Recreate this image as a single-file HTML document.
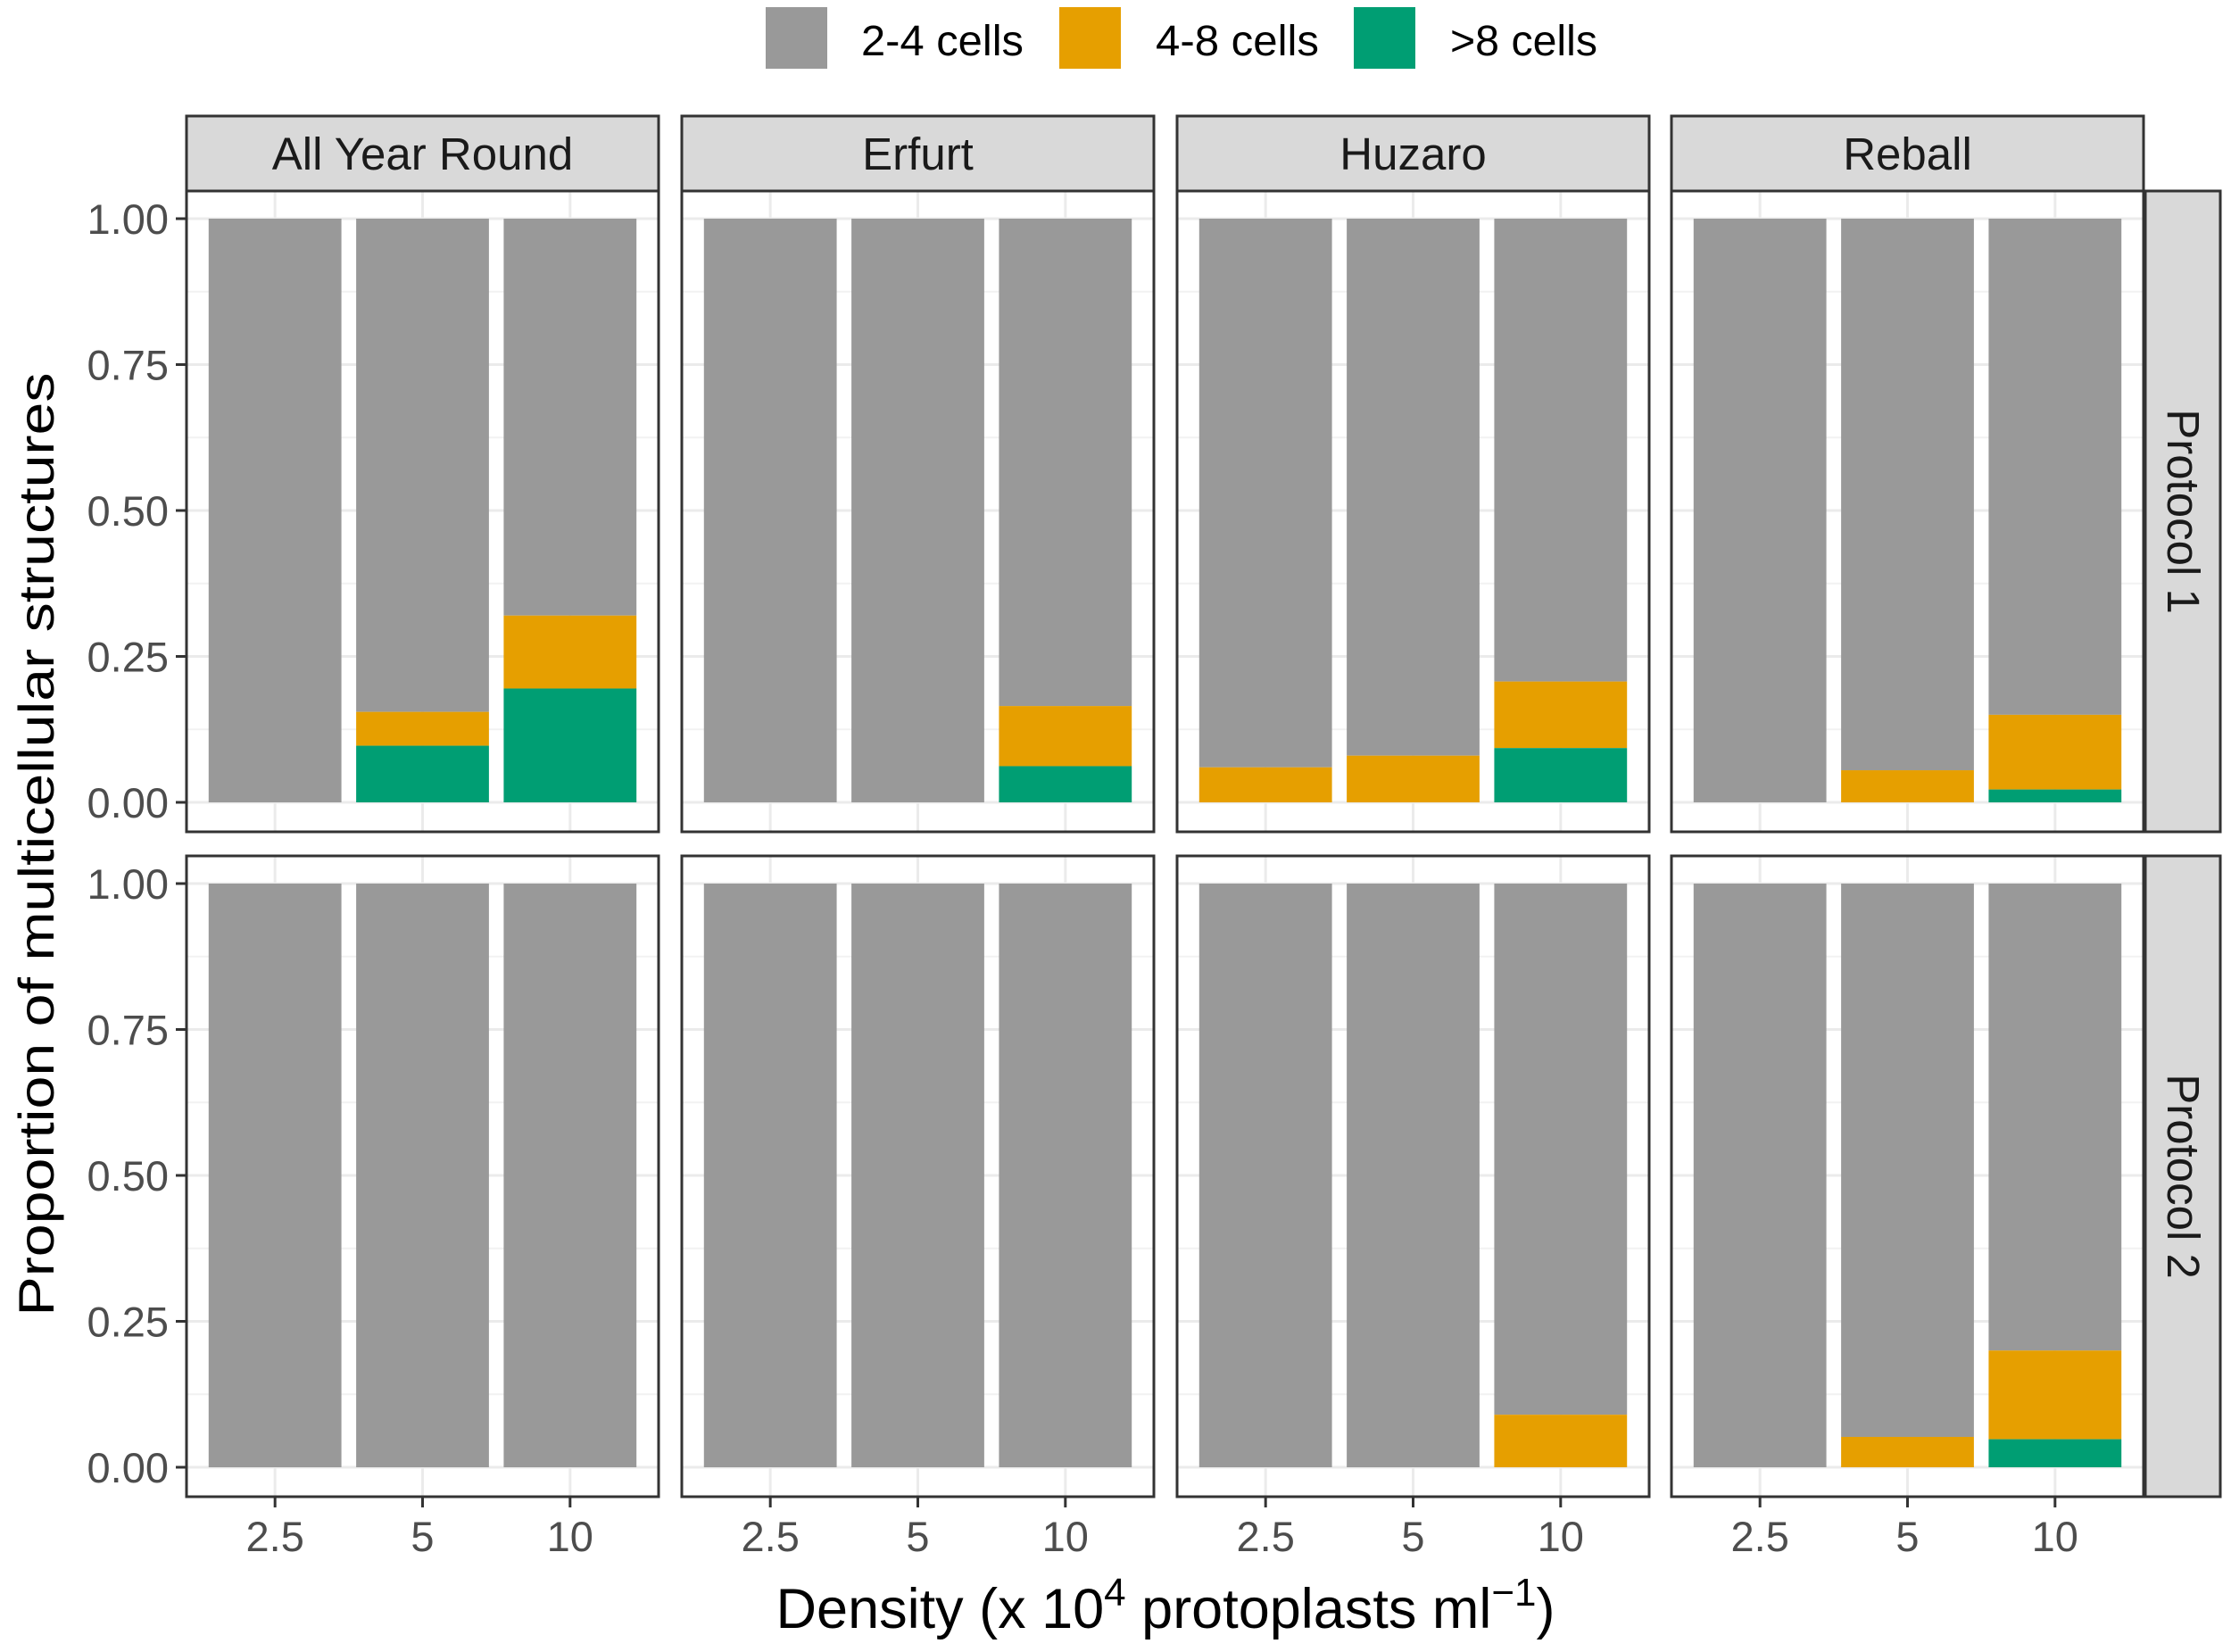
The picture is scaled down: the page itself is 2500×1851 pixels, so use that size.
<!DOCTYPE html>
<html><head><meta charset="utf-8"><style>
html,body{margin:0;padding:0;background:#fff;}
svg{display:block;font-family:"Liberation Sans",sans-serif;}
</style></head><body>
<svg id="chart" width="2500" height="1851" viewBox="0 0 2500 1851" xmlns="http://www.w3.org/2000/svg">
<g>
  <rect x="858" y="8" width="69" height="69" fill="#999999"/>
  <text x="965" y="62" font-size="48" textLength="182" lengthAdjust="spacingAndGlyphs" fill="#000">2-4 cells</text>
  <rect x="1187" y="8" width="69" height="69" fill="#E69F00"/>
  <text x="1295" y="62" font-size="48" textLength="183" lengthAdjust="spacingAndGlyphs" fill="#000">4-8 cells</text>
  <rect x="1517" y="8" width="69" height="69" fill="#009E73"/>
  <text x="1625" y="62" font-size="48" textLength="165" lengthAdjust="spacingAndGlyphs" fill="#000">&gt;8 cells</text>
</g>
<text transform="translate(60,946) rotate(-90)" text-anchor="middle" font-size="56" textLength="1057" lengthAdjust="spacingAndGlyphs" fill="#000">Proportion of multicellular structures</text>
<text x="1306" y="1824" text-anchor="middle" font-size="63" fill="#000">Density (x 10<tspan dy="-25" font-size="44">4</tspan><tspan dy="25"> protoplasts ml</tspan><tspan dy="-25" font-size="44">−1</tspan><tspan dy="25">)</tspan></text>
<g id="panels"></g>
</svg>
<script>
const cultivars = ["All Year Round", "Erfurt", "Huzaro", "Reball"];
const protocols = ["Protocol 1", "Protocol 2"];
const densities = ["2.5", "5", "10"];
const yTicks = [0, 0.25, 0.5, 0.75, 1];
const yTickLabels = ["0.00", "0.25", "0.50", "0.75", "1.00"];
// proportions of 4-8 cells, per protocol, per cultivar, per density
const p1_4to8 = [[0, 0.058, 0.125], [0, 0, 0.103], [0.06, 0.08, 0.114], [0, 0.055, 0.128]];
const p1_gt8  = [[0, 0.097, 0.195], [0, 0, 0.062], [0, 0, 0.093], [0, 0, 0.022]];
const p2_4to8 = [[0, 0, 0], [0, 0, 0], [0, 0, 0.09], [0, 0.052, 0.152]];
const p2_gt8  = [[0, 0, 0], [0, 0, 0], [0, 0, 0], [0, 0, 0.048]];

const NS = "http://www.w3.org/2000/svg";
const g = document.getElementById("panels");
const panelLeft = [209, 764, 1319, 1873], panelW = 529;
const rowTop = [214, 959], panelH = 718;
const GRAY = "#999999", ORANGE = "#E69F00", GREEN = "#009E73";
function mk(tag, attrs, parent) {
  const e = document.createElementNS(NS, tag);
  for (const k in attrs) e.setAttribute(k, attrs[k]);
  (parent || g).appendChild(e);
  return e;
}
function xScale(col, i) { return panelLeft[col] + (i + 0.6) * panelW / 3.2; }
function yScale(row, v) { const t = rowTop[row]; const y0 = t + 685, y1 = t + 31; return y0 + (y1 - y0) * v; }
const bw = 0.9 * panelW / 3.2;
const data4 = [p1_4to8, p2_4to8], data8 = [p1_gt8, p2_gt8];

for (let r = 0; r < 2; r++) {
  for (let c = 0; c < 4; c++) {
    const L = panelLeft[c], T = rowTop[r];
    const pg = mk("g", {});
    
    
    mk("rect", {x: L, y: T, width: panelW, height: panelH, fill: "#fff"}, pg);
    for (let k = 0; k < 4; k++) {
      const v = 0.125 + k * 0.25;
      mk("line", {x1: L, x2: L + panelW, y1: yScale(r, v), y2: yScale(r, v), stroke: "#f2f2f2", "stroke-width": 2}, pg);
    }
    yTicks.forEach(v => mk("line", {x1: L, x2: L + panelW, y1: yScale(r, v), y2: yScale(r, v), stroke: "#ebebeb", "stroke-width": 3}, pg));
    densities.forEach((d, i) => mk("line", {x1: xScale(c, i), x2: xScale(c, i), y1: T, y2: T + panelH, stroke: "#ebebeb", "stroke-width": 3}, pg));
    densities.forEach((d, i) => {
      const a = data8[r][c][i], b = data4[r][c][i];
      const x = xScale(c, i) - bw / 2;
      const s1 = mk("rect", {x: x, y: yScale(r, 1), width: bw, height: yScale(r, a + b) - yScale(r, 1), fill: GRAY}, pg);
      
      
      if (b > 0) {
        const s2 = mk("rect", {x: x, y: yScale(r, a + b), width: bw, height: yScale(r, a) - yScale(r, a + b), fill: ORANGE}, pg);
        
        
      }
      if (a > 0) {
        const s3 = mk("rect", {x: x, y: yScale(r, a), width: bw, height: yScale(r, 0) - yScale(r, a), fill: GREEN}, pg);
        
        
      }
    });
    mk("rect", {x: L, y: T, width: panelW, height: panelH, fill: "none", stroke: "#333", "stroke-width": 3}, pg);
    if (c === 0) {
      yTicks.forEach((v, k) => {
        mk("line", {x1: L - 12, x2: L, y1: yScale(r, v), y2: yScale(r, v), stroke: "#333", "stroke-width": 3}, pg);
        const t = mk("text", {x: L - 20, y: yScale(r, v) + 17, "text-anchor": "end", "font-size": 47, fill: "#4d4d4d"}, pg);
        
        
        t.textContent = yTickLabels[k];
      });
    }
    if (r === 1) {
      densities.forEach((d, i) => {
        mk("line", {x1: xScale(c, i), x2: xScale(c, i), y1: T + panelH, y2: T + panelH + 12, stroke: "#333", "stroke-width": 3}, pg);
        const t = mk("text", {x: xScale(c, i), y: 1738, "text-anchor": "middle", "font-size": 47, fill: "#4d4d4d"}, pg);
        
        
        t.textContent = d;
      });
    }
    if (r === 0) {
      const st = mk("g", {}, pg);
      
      
      mk("rect", {x: L, y: 130, width: panelW, height: 84, fill: "#d9d9d9", stroke: "#333", "stroke-width": 3}, st);
      const t = mk("text", {x: L + panelW / 2, y: 190, "text-anchor": "middle", "font-size": 51, fill: "#1a1a1a"}, st);
      t.textContent = cultivars[c];
    }
    if (c === 3) {
      const st = mk("g", {}, pg);
      
      
      mk("rect", {x: 2404, y: T, width: 84, height: panelH, fill: "#d9d9d9", stroke: "#333", "stroke-width": 3}, st);
      const t = mk("text", {transform: "translate(2429," + (T + panelH / 2) + ") rotate(90)", "text-anchor": "middle", "font-size": 51, fill: "#1a1a1a"}, st);
      t.textContent = protocols[r];
    }
  }
}
</script>
</body></html>
